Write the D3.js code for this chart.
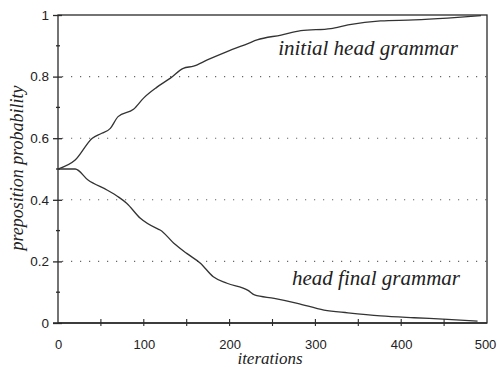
<!DOCTYPE html>
<html>
<head>
<meta charset="utf-8">
<script src="https://cdn.jsdelivr.net/npm/d3@7"></script>
<style>
  html, body { margin: 0; padding: 0; background: #fff; }
  svg { display: block; }
</style>
</head>
<body>
<svg id="chart" width="497" height="367"></svg>
<script>
// Iteration counts and preposition probabilities for the two grammars
const initialHeadIter = [0, 20, 40, 51, 61, 70, 88, 100, 115, 131, 146, 158, 174, 197, 222, 232, 260, 283, 318, 338, 376, 415, 454, 493];
const initialHeadProb = [0.5, 0.529, 0.60, 0.616, 0.632, 0.67, 0.694, 0.731, 0.765, 0.795, 0.827, 0.834, 0.854, 0.881, 0.908, 0.919, 0.935, 0.949, 0.956, 0.968, 0.981, 0.984, 0.99, 0.998];

const headFinalIter = [0, 20, 35, 57, 70, 80, 96, 115, 119, 135, 150, 166, 181, 197, 222, 229, 252, 279, 310, 338, 376, 415, 454, 489];
const headFinalProb = [0.5, 0.5, 0.464, 0.432, 0.41, 0.389, 0.34, 0.307, 0.302, 0.259, 0.226, 0.194, 0.15, 0.129, 0.105, 0.091, 0.080, 0.064, 0.042, 0.033, 0.023, 0.017, 0.012, 0.006];

const xTicks = [0, 100, 200, 300, 400, 500];
const xMinorTicks = [50, 150, 250, 350, 450];
const yTicks = [0, 0.2, 0.4, 0.6, 0.8, 1];
const yMinorTicks = [0.1, 0.3, 0.5, 0.7, 0.9];
const gridValues = [0.2, 0.4, 0.6, 0.8];

const margin = { left: 58, right: 10, top: 15, bottom: 44 };
const W = 497, H = 367;
const svg = d3.select("#chart");

const x = d3.scaleLinear().domain([0, 500]).range([margin.left, W - margin.right]);
const y = d3.scaleLinear().domain([0, 1]).range([H - margin.bottom, margin.top]);

const ink = "#2a2a2a";

// dotted horizontal gridlines
svg.append("g")
  .selectAll("line")
  .data(gridValues)
  .join("line")
  .attr("x1", x(0) + 4).attr("x2", x(500))
  .attr("y1", d => y(d)).attr("y2", d => y(d))
  .attr("stroke", "#666")
  .attr("stroke-width", 1.1)
  .attr("stroke-dasharray", "1.2,7.8");

// plot frame
svg.append("rect")
  .attr("x", x(0)).attr("y", y(1))
  .attr("width", x(500) - x(0)).attr("height", y(0) - y(1))
  .attr("fill", "none")
  .attr("stroke", ink)
  .attr("stroke-width", 1.3);

// y axis: major ticks with labels, minor ticks across the axis
const yAxis = d3.axisLeft(y).tickValues(yTicks)
  .tickFormat(d => d === 0 ? "0" : d === 1 ? "1" : d3.format(".1f")(d))
  .tickSize(5).tickPadding(4);
const gy = svg.append("g").attr("transform", `translate(${x(0)},0)`).call(yAxis);
gy.select(".domain").remove();
gy.selectAll("line").attr("stroke", ink).attr("stroke-width", 1.3).attr("x2", 4).attr("x1", -5);
gy.selectAll("text")
  .attr("font-family", "'Liberation Sans', Arial, sans-serif")
  .attr("font-size", 13.5)
  .attr("fill", "#222")
  .attr("x", -9);

svg.append("g")
  .selectAll("line")
  .data(yMinorTicks)
  .join("line")
  .attr("x1", x(0) - 2).attr("x2", x(0) + 2)
  .attr("y1", d => y(d)).attr("y2", d => y(d))
  .attr("stroke", ink).attr("stroke-width", 1.3);

// x axis
const xAxis = d3.axisBottom(x).tickValues(xTicks).tickSize(0).tickPadding(17);
const gx = svg.append("g").attr("transform", `translate(0,${y(0)})`).call(xAxis);
gx.select(".domain").remove();
gx.selectAll("text")
  .attr("font-family", "'Liberation Sans', Arial, sans-serif")
  .attr("font-size", 13)
  .attr("fill", "#222")
  .attr("dx", d => d === 500 ? -2 : 0);

svg.append("g")
  .selectAll("line")
  .data(xTicks.concat(xMinorTicks).filter(d => d > 0 && d < 500))
  .join("line")
  .attr("x1", d => x(d)).attr("x2", d => x(d))
  .attr("y1", y(0) - 4).attr("y2", y(0) + 3)
  .attr("stroke", ink).attr("stroke-width", 1.1);

// bottom axis runs a little past the left edge
svg.append("line")
  .attr("x1", x(0) - 5).attr("x2", x(500))
  .attr("y1", y(0)).attr("y2", y(0))
  .attr("stroke", ink).attr("stroke-width", 1.4);

// curves
const line = d3.line().x(d => x(d[0])).y(d => y(d[1])).curve(d3.curveMonotoneX);
const series = [
  d3.zip(initialHeadIter, initialHeadProb),
  d3.zip(headFinalIter, headFinalProb)
];
svg.append("g")
  .selectAll("path")
  .data(series)
  .join("path")
  .attr("d", line)
  .attr("fill", "none")
  .attr("stroke", "#333")
  .attr("stroke-width", 1.3)
  .attr("stroke-linejoin", "round");

// annotations
const serifFamily = "'Liberation Serif', 'Times New Roman', serif";
function label(text, cx, cy, size, rotate) {
  const t = svg.append("text")
    .attr("text-anchor", "middle")
    .attr("font-family", serifFamily)
    .attr("font-style", "italic")
    .attr("font-size", size)
    .attr("fill", "#222")
    .text(text);
  if (rotate) t.attr("transform", `translate(${cx},${cy}) rotate(-90)`);
  else t.attr("x", cx).attr("y", cy);
  return t;
}
label("initial head grammar", 368, 55, 21);
label("head final grammar", 376, 285, 21);
label("iterations", 270, 364, 17);
label("preposition probability", 23, 168, 18, true);
</script>
</body>
</html>
